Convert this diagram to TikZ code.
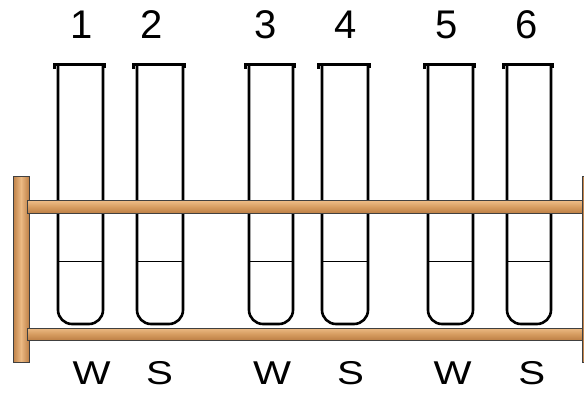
\documentclass[tikz,border=0pt]{standalone}
\usepackage{fontspec}
\setmainfont{Liberation Sans}
\begin{document}
\begin{tikzpicture}[x=1pt,y=-1pt,
  wood/.style={draw=black!75,line width=1pt,top color=woodlight,bottom color=wooddark,middle color=woodmid},
  post/.style={draw=black!75,line width=1pt,left color=wooddark,right color=wooddark,middle color=woodlight},
  tubewall/.style={draw=black,line width=2.6pt,fill=white,rounded corners=14pt},
  level/.style={draw=black,line width=1pt},
  rim/.style={draw=black,line width=3pt},
  num/.style={font=\fontsize{40}{44}\selectfont,inner sep=0pt},
  tag/.style={font=\fontsize{33}{36}\selectfont,inner sep=0pt}]
\definecolor{woodlight}{RGB}{236,186,132}
\definecolor{woodmid}{RGB}{214,156,96}
\definecolor{wooddark}{RGB}{190,128,70}
\useasboundingbox (0,0) rectangle (584,393);
\fill[white] (0,0) rectangle (584,393);

% test tubes: left wall, right wall, number, label, tag
\foreach \xl/\xr/\n/\t/\cx/\tx [count=\i] in
  {58/103/1/W/82/91.5, 137/183/2/S/152/159.5, 249/293/3/W/265.5/272,
   322/368/4/S/345.5/350.5, 428/473/5/W/447/452.5, 507/551/6/S/527/531.7}{
  \draw[tubewall] (\xl,65) -- (\xl,324) -- (\xr,324) -- (\xr,65);
  \draw[level] (\xl,261) -- (\xr,261);
  \draw[rim] (\xl-4,65) -- (\xr+1.5,65);
  \fill[black] (\xl-5.5,63) rectangle (\xl-2,69);
  \fill[black] (\xr,63) rectangle (\xr+2.5,68.5);
  \node[num] (n\i) at (\cx,24.5) {\n};
  \node[tag] (t\i) at (\tx,373.5) {\scalebox{1.22}[1]{\t}};
}

% rack: posts and cross bars
\draw[post] (13,177) rectangle (29,362);
\draw[post] (582,177) rectangle (600,362);
\draw[wood] (27,201) rectangle (582,213);
\draw[wood] (27,328) rectangle (582,340);
\end{tikzpicture}
\end{document}
